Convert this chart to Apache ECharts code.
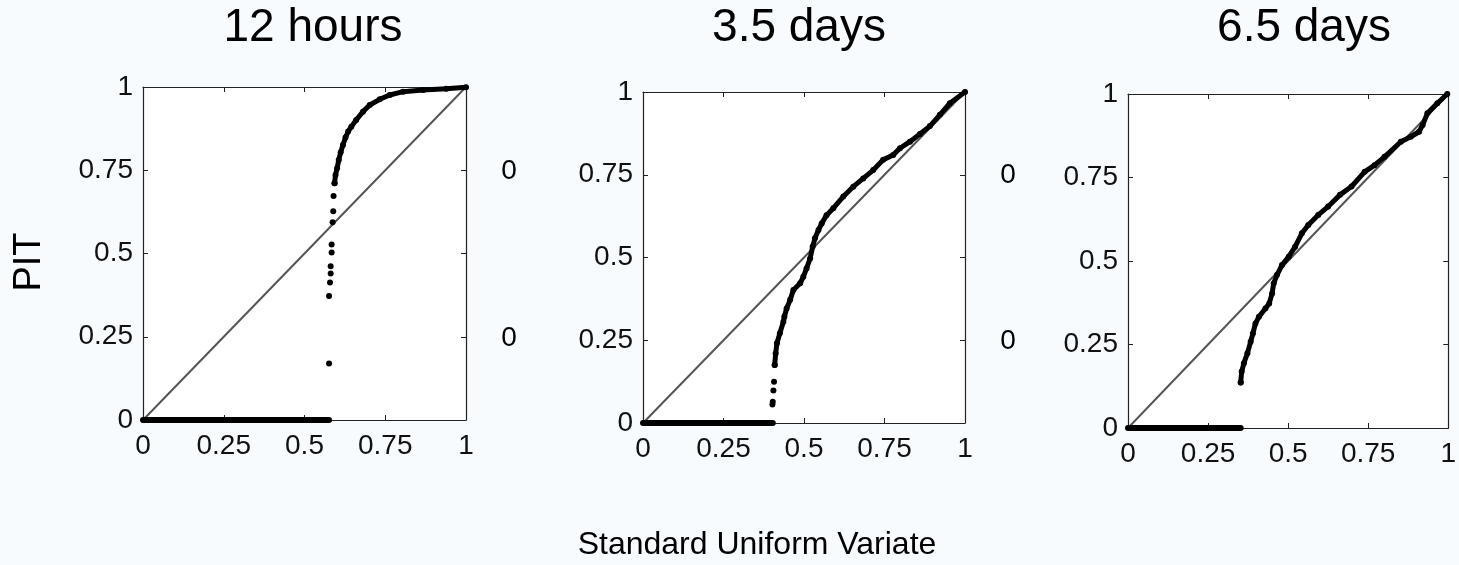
<!DOCTYPE html>
<html>
<head>
<meta charset="utf-8">
<script src="https://cdn.jsdelivr.net/npm/echarts@6/dist/echarts.min.js"></script>
<style>
  html, body { margin: 0; padding: 0; background: #f7fbfe; }
  #chart { width: 1459px; height: 565px; }
</style>
</head>
<body>
<div id="chart"></div>
<script>
// panel titles and tick values
const panelTitles = ['12 hours', '3.5 days', '6.5 days']
const tickValues = [0, 0.25, 0.5, 0.75, 1]
const diagonal = [[0, 0], [1, 1]]

// 12 hours
const zeroRun12h = [[0, 0], [0.576, 0]]
const sparse12h = [
  [0.576, 0.170], [0.576, 0.372], [0.579, 0.413], [0.581, 0.440], [0.581, 0.462],
  [0.584, 0.503], [0.584, 0.527], [0.587, 0.594], [0.589, 0.627], [0.590, 0.673],
  [0.593, 0.711]
]
const curve12h = [
  [0.593, 0.711], [0.596, 0.736], [0.601, 0.756], [0.606, 0.781], [0.612, 0.804],
  [0.619, 0.826], [0.627, 0.848], [0.635, 0.866], [0.645, 0.881], [0.660, 0.901],
  [0.681, 0.926], [0.702, 0.946], [0.733, 0.963], [0.764, 0.976], [0.805, 0.986],
  [0.867, 0.991], [0.939, 0.995], [1.0, 0.999]
]

// 3.5 days
const zeroRun3d = [[0, 0], [0.403, 0]]
const sparse3d = [
  [0.402, 0.056], [0.403, 0.064], [0.405, 0.098], [0.407, 0.125], [0.409, 0.175]
]
const curve3d = [
  [0.409, 0.175], [0.412, 0.210], [0.416, 0.241], [0.425, 0.271], [0.436, 0.306],
  [0.439, 0.321], [0.446, 0.346], [0.457, 0.372], [0.467, 0.402], [0.488, 0.422],
  [0.498, 0.442], [0.508, 0.467], [0.519, 0.497], [0.527, 0.533], [0.534, 0.558],
  [0.545, 0.583], [0.555, 0.603], [0.570, 0.628], [0.591, 0.649], [0.622, 0.684],
  [0.653, 0.714], [0.684, 0.739], [0.715, 0.764], [0.746, 0.795], [0.777, 0.810],
  [0.798, 0.830], [0.829, 0.850], [0.860, 0.873], [0.891, 0.897], [0.922, 0.931],
  [0.953, 0.966], [1.0, 1.0]
]

// 6.5 days
const zeroRun6d = [[0, 0], [0.352, 0]]
const sparse6d = [[0.352, 0.136]]
const curve6d = [
  [0.352, 0.136], [0.355, 0.169], [0.362, 0.194], [0.373, 0.224], [0.383, 0.258],
  [0.390, 0.283], [0.398, 0.313], [0.409, 0.333], [0.429, 0.358], [0.441, 0.373],
  [0.450, 0.403], [0.455, 0.433], [0.465, 0.458], [0.481, 0.488], [0.502, 0.513],
  [0.522, 0.543], [0.543, 0.583], [0.563, 0.608], [0.594, 0.638], [0.625, 0.663],
  [0.662, 0.698], [0.698, 0.723], [0.739, 0.767], [0.770, 0.787], [0.801, 0.812],
  [0.852, 0.857], [0.883, 0.872], [0.909, 0.887], [0.920, 0.907], [0.935, 0.942],
  [0.966, 0.972], [0.997, 1.0]
]

const panels = [
  { zero: zeroRun12h, sparse: sparse12h, curve: curve12h },
  { zero: zeroRun3d, sparse: sparse3d, curve: curve3d },
  { zero: zeroRun6d, sparse: sparse6d, curve: curve6d }
]

const gridBoxes = [
  { left: 143, top: 87, width: 323, height: 333 },
  { left: 643, top: 92, width: 322, height: 331 },
  { left: 1128, top: 94, width: 323, height: 334 }
]
const titleX = [313, 799, 1304]

const font = 'Arial, "Liberation Sans", sans-serif'
const axisColor = '#222'

var myChart = echarts.init(document.getElementById('chart'))

const grid = gridBoxes.map(g => ({
  ...g, show: true, backgroundColor: '#fff', borderWidth: 0
}))

const xAxis = []
const yAxis = []
gridBoxes.forEach((g, i) => {
  const base = {
    type: 'value', gridIndex: i, min: tickValues[0], max: tickValues[tickValues.length - 1],
    interval: tickValues[1] - tickValues[0],
    splitLine: { show: false },
    axisLine: { show: true, onZero: false, lineStyle: { color: axisColor, width: 1.2 } },
    axisTick: { show: true, inside: true, length: 5, lineStyle: { color: axisColor } }
  }
  xAxis.push({ ...base, position: 'bottom',
    axisLabel: { fontSize: 28, color: '#111', fontFamily: font, margin: 12 } })
  xAxis.push({ ...base, position: 'top', axisLabel: { show: false } })
  yAxis.push({ ...base, position: 'left',
    axisLabel: { fontSize: 28, color: '#111', fontFamily: font, margin: 10 } })
  yAxis.push({ ...base, position: 'right', axisLabel: { show: false } })
})

const series = []
panels.forEach((p, i) => {
  const axes = { xAxisIndex: i * 2, yAxisIndex: i * 2 }
  series.push({
    type: 'line', ...axes, data: diagonal, showSymbol: false, z: 2,
    lineStyle: { color: '#555', width: 2 }
  })
  series.push({
    type: 'line', ...axes, data: p.zero, showSymbol: false, clip: false, z: 3,
    lineStyle: { color: '#000', width: 6, cap: 'round' }
  })
  series.push({
    type: 'line', ...axes, data: p.curve, clip: false, z: 3,
    symbol: 'circle', symbolSize: 6, showSymbol: true,
    itemStyle: { color: '#000' },
    lineStyle: { color: '#000', width: 5, cap: 'round', join: 'round' }
  })
  series.push({
    type: 'scatter', ...axes, data: p.sparse, symbolSize: 6, z: 3,
    itemStyle: { color: '#000', opacity: 1 }
  })
})

const textStyle = (size) => ({ fill: '#000', font: size + 'px ' + font, textAlign: 'center', textVerticalAlign: 'middle' })

const graphic = [
  ...panelTitles.map((t, i) => ({ type: 'text', x: titleX[i], y: 28, style: { text: t, ...textStyle(46) } })),
  { type: 'text', x: 757, y: 545, style: { text: 'Standard Uniform Variate', ...textStyle(32) } },
  { type: 'text', x: 30, y: 262, rotation: Math.PI / 2, style: { text: 'PIT', ...textStyle(38) } },
  { type: 'text', x: 509, y: 171, style: { text: '0', ...textStyle(28) } },
  { type: 'text', x: 509, y: 338, style: { text: '0', ...textStyle(28) } },
  { type: 'text', x: 1008, y: 175, style: { text: '0', ...textStyle(28) } },
  { type: 'text', x: 1008, y: 341, style: { text: '0', ...textStyle(28) } }
]

myChart.setOption({
  animation: false,
  backgroundColor: '#f7fbfe',
  grid, xAxis, yAxis, series, graphic
})
</script>
</body>
</html>
